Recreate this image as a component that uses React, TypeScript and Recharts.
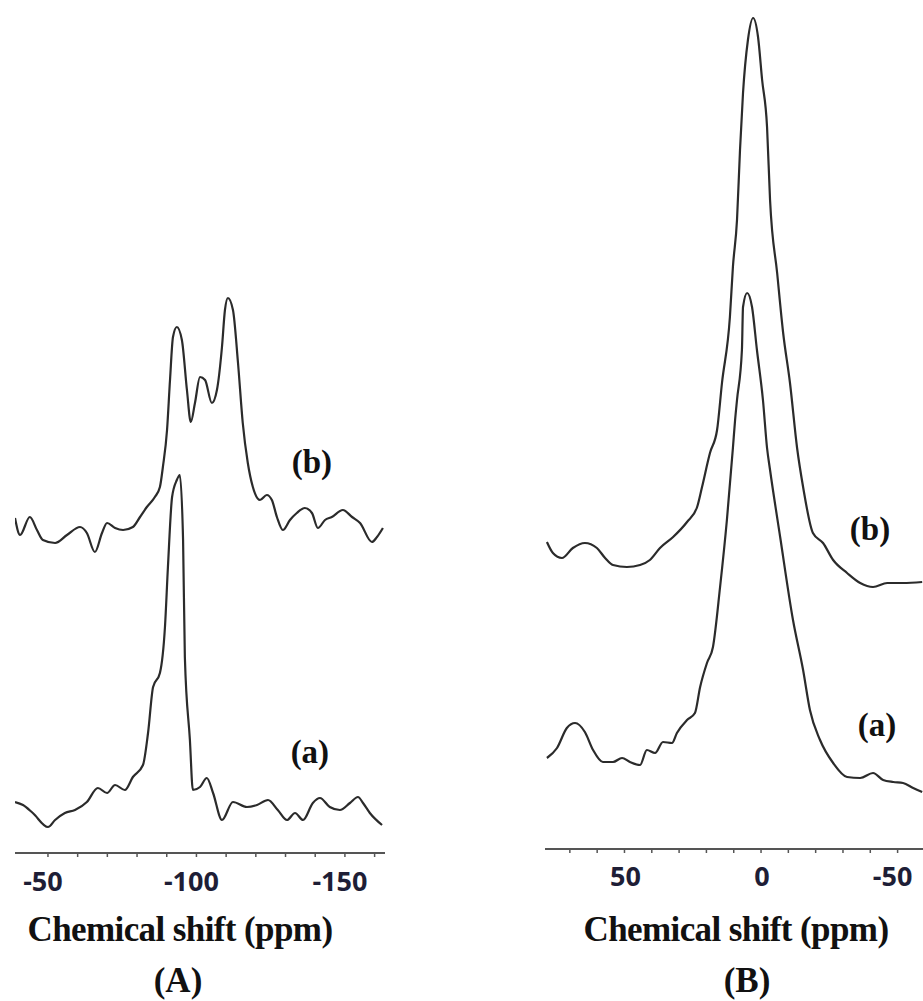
import React from 'react';
import { LineChart, Line, XAxis, YAxis, ReferenceDot } from 'recharts';

// ---- Panel (A): chemical shift (ppm), intensity (a.u.) ----
const spectrumA_b: [number, number][] = [
  [-38.9, 7], [-40.6, -10], [-43.9, 8], [-46.3, -5], [-48.3, -15], [-52.4, -18], [-56.4, -10],
  [-60.8, -2], [-63.1, -8], [-65.8, -27], [-68.2, -8], [-69.9, 2], [-72.6, -3], [-75.3, -5],
  [-78.6, -2], [-81.0, 8], [-83.3, 18], [-86.0, 28], [-87.7, 38], [-88.7, 58], [-90.1, 95],
  [-91.1, 145], [-92.1, 188], [-93.4, 198], [-95.1, 185], [-96.8, 135], [-98.1, 103],
  [-99.5, 122], [-101.2, 148], [-102.9, 145], [-105.2, 122], [-106.9, 135], [-108.6, 178],
  [-109.6, 215], [-110.6, 227], [-112.3, 215], [-114.0, 162], [-115.6, 102], [-117.3, 62],
  [-119.0, 38], [-121.4, 25], [-123.7, 30], [-125.4, 25], [-127.1, 8], [-129.1, -5],
  [-131.5, 5], [-133.8, 12], [-136.5, 17], [-138.9, 12], [-140.9, -3], [-143.3, 5],
  [-145.6, 8], [-149.3, 15], [-152.4, 8], [-155.1, 2], [-159.1, -17], [-160.8, -12], [-162.8, -3],
];

const spectrumA_a: [number, number][] = [
  [-38.9, 8], [-41.6, 5], [-44.9, -3], [-50.0, -17], [-52.4, -10], [-55.7, -3], [-59.1, 0],
  [-63.1, 8], [-66.8, 22], [-69.9, 17], [-72.6, 25], [-75.9, 20], [-78.6, 33], [-82.0, 45],
  [-83.7, 77], [-85.4, 123], [-87.7, 137], [-89.4, 183], [-90.4, 243], [-91.8, 313],
  [-93.4, 330], [-94.4, 335], [-95.5, 270], [-96.1, 153], [-97.8, 70], [-98.8, 20],
  [-101.2, 23], [-103.5, 32], [-105.6, 17], [-108.6, -10], [-112.3, 8], [-117.0, 3],
  [-120.4, 5], [-124.1, 10], [-127.4, 0], [-130.5, -10], [-133.2, -3], [-135.9, -10],
  [-139.2, 7], [-141.6, 12], [-144.9, 3], [-148.3, 0], [-151.7, 7], [-154.4, 13],
  [-156.1, 7], [-158.4, -3], [-162.5, -15],
];

// ---- Panel (B) ----
const spectrumB_b: [number, number][] = [
  [78.4, 23], [76.2, 12], [72.9, 7], [68.9, 17], [64.5, 22], [60.1, 17], [57.1, 7], [54.2, 0],
  [49.1, -2], [44.3, 0], [40.7, 5], [37.0, 17], [32.2, 28], [27.1, 43], [23.4, 58], [21.6, 78],
  [18.7, 112], [16.1, 135], [14.3, 182], [11.4, 248], [10.3, 298], [8.8, 345], [7.7, 415],
  [6.6, 472], [4.8, 525], [2.9, 547], [1.1, 528], [-0.4, 485], [-2.2, 438], [-3.3, 365],
  [-5.9, 292], [-8.1, 232], [-10.6, 182], [-13.2, 117], [-15.4, 78], [-19.0, 32], [-22.7, 22],
  [-26.4, 5], [-31.5, -8], [-36.3, -18], [-41.0, -22], [-46.2, -18], [-52.0, -18], [-59.0, -17],
];

const spectrumB_a: [number, number][] = [
  [78.4, 12], [74.7, 22], [71.1, 42], [68.1, 47], [64.5, 38], [61.5, 20], [57.9, 8], [54.2, 8],
  [50.9, 12], [48.0, 8], [44.3, 5], [41.8, 20], [38.8, 17], [35.9, 28], [32.6, 27], [30.8, 37],
  [27.1, 50], [24.2, 57], [22.3, 83], [19.8, 107], [17.6, 123], [15.0, 183], [12.5, 250],
  [10.3, 322], [9.5, 350], [8.8, 370], [7.0, 420], [6.6, 463], [5.1, 477], [3.3, 463],
  [1.5, 420], [-0.7, 370], [-2.2, 322], [-3.3, 300], [-7.0, 233], [-11.7, 150], [-15.4, 100],
  [-17.9, 60], [-21.6, 30], [-26.4, 7], [-31.5, -7], [-36.3, -8], [-41.0, -3], [-44.7, -10],
  [-48.4, -12], [-52.0, -13], [-55.7, -18], [-59.0, -22],
];

const ticksA = [-50, -60, -70, -80, -90, -100, -110, -120, -130, -140, -150, -160];
const ticksB = [70, 60, 50, 40, 30, 20, 10, 0, -10, -20, -30, -40, -50];

// vertical stacking offsets of the spectra (intensity units)
const OFFSET_A_b = 328;
const OFFSET_A_a = 43;
const OFFSET_B_b = 284;
const OFFSET_B_a = 79;

const toRows = (s: [number, number][], off: number) => s.map(([x, v]) => ({ x, y: v + off }));

const LINE = '#2b2b2b';

const makeTick = (dy: number) => (props: any) => {
  const { x, y, payload } = props;
  const v = payload.value;
  if (v % 50 !== 0) return <g />;
  return (
    <text
      x={x}
      y={y}
      dx={v < 0 ? -5 : 1}
      dy={dy}
      textAnchor="middle"
      fontFamily="'Open Sans', sans-serif"
      fontWeight={700}
      fontSize={27}
      fill="#1e1e36"
    >
      {v}
    </text>
  );
};

const serif = "'Liberation Serif', 'Times New Roman', serif";

const labelStyle = (value: string) => ({
  value,
  position: 'center' as const,
  fill: '#111',
  fontSize: 33,
  fontWeight: 700,
  fontFamily: serif,
});

export default function App() {
  const dataAb = toRows(spectrumA_b, OFFSET_A_b);
  const dataAa = toRows(spectrumA_a, OFFSET_A_a);
  const dataBb = toRows(spectrumB_b, OFFSET_B_b);
  const dataBa = toRows(spectrumB_a, OFFSET_B_a);

  return (
    <div style={{ position: 'absolute', left: 0, top: 0, width: 923, height: 1001, background: '#fff', overflow: 'hidden' }}>
      <div style={{ position: 'absolute', left: 15, top: 0 }}>
        <LineChart width={370} height={923} margin={{ top: 0, right: 0, bottom: 0, left: 0 }}>
          <XAxis
            type="number"
            dataKey="x"
            domain={[-163.5, -38.9]}
            reversed
            allowDataOverflow
            ticks={ticksA}
            interval={0}
            height={70}
            axisLine={{ stroke: '#555', strokeWidth: 2 }}
            tickLine={{ stroke: '#555', strokeWidth: 1.5 }}
            tickSize={4}
            tick={makeTick(32)}
          />
          <YAxis type="number" hide domain={[0, 853]} />
          <Line data={dataAb} dataKey="y" type="monotone" stroke={LINE} strokeWidth={2.2} dot={false} isAnimationActive={false} />
          <Line data={dataAa} dataKey="y" type="monotone" stroke={LINE} strokeWidth={2.2} dot={false} isAnimationActive={false} />
          <ReferenceDot x={-138.9} y={392} r={0} ifOverflow="visible" label={labelStyle('(b)')} />
          <ReferenceDot x={-138.2} y={102} r={0} ifOverflow="visible" label={labelStyle('(a)')} />
        </LineChart>
      </div>
      <div style={{ position: 'absolute', left: 545, top: 0 }}>
        <LineChart width={378} height={919} margin={{ top: 0, right: 0, bottom: 0, left: 0 }}>
          <XAxis
            type="number"
            dataKey="x"
            domain={[-59.3, 79.1]}
            reversed
            allowDataOverflow
            ticks={ticksB}
            interval={0}
            height={70}
            axisLine={{ stroke: '#555', strokeWidth: 2 }}
            tickLine={{ stroke: '#555', strokeWidth: 1.5 }}
            tickSize={4}
            tick={makeTick(31)}
          />
          <YAxis type="number" hide domain={[0, 849]} />
          <Line data={dataBb} dataKey="y" type="monotone" stroke={LINE} strokeWidth={2.2} dot={false} isAnimationActive={false} />
          <Line data={dataBa} dataKey="y" type="monotone" stroke={LINE} strokeWidth={2.2} dot={false} isAnimationActive={false} />
          <ReferenceDot x={-39.9} y={321} r={0} ifOverflow="visible" label={labelStyle('(b)')} />
          <ReferenceDot x={-42.5} y={125} r={0} ifOverflow="visible" label={labelStyle('(a)')} />
        </LineChart>
      </div>
      <svg width={923} height={1001} style={{ position: 'absolute', left: 0, top: 0, pointerEvents: 'none' }}>
        <g fontFamily={serif} fontWeight={700} fill="#111" textAnchor="middle">
          <text x={180} y={941} fontSize={35} letterSpacing={-0.6}>Chemical shift (ppm)</text>
          <text x={736} y={941} fontSize={35} letterSpacing={-0.6}>Chemical shift (ppm)</text>
          <text x={178} y={992} fontSize={35}>(A)</text>
          <text x={747} y={992} fontSize={35}>(B)</text>
        </g>
      </svg>
    </div>
  );
}
